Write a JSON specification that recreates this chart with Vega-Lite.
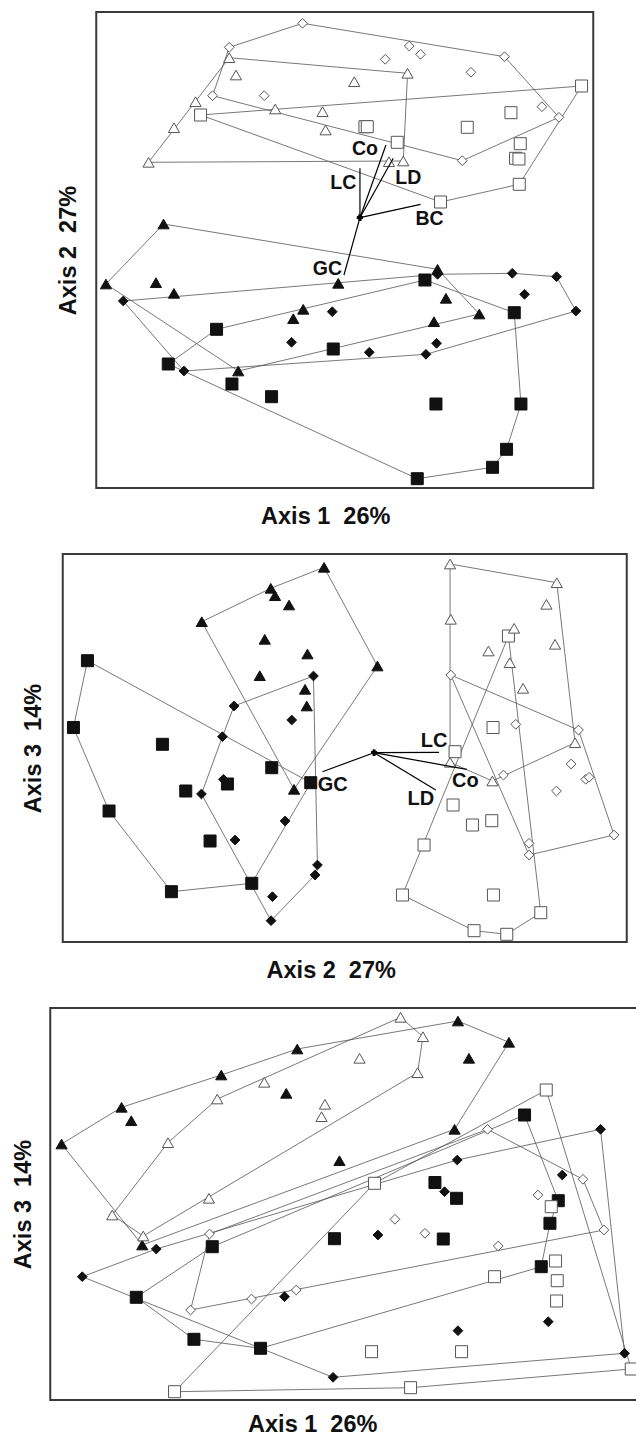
{
  "$schema": "https://vega.github.io/schema/vega-lite/v6.json",
  "background": "white",
  "padding": {"left": 9.25, "top": 11, "right": 0, "bottom": 0},
  "config": {
    "font": "Liberation Sans",
    "view": {"stroke": "#3a3a3a", "strokeWidth": 2},
    "axis": {"domain": false, "ticks": false, "labels": false, "grid": false, "titleFont": "Liberation Sans", "titleFontWeight": "bold", "titleFontSize": 23.5, "titleColor": "#111111"},
    "legend": {"disable": true}
  },
  "datasets": {
    "p1_pts": [
      {"group":"OD","x":206.3,"y":464.7},{"group":"OD","x":133,"y":440.7},{"group":"OD","x":116.3,"y":392.3},{"group":"OD","x":168,"y":392.3},{"group":"OD","x":313,"y":442},{"group":"OD","x":324.3,"y":433.7},{"group":"OD","x":289,"y":428.7},{"group":"OD","x":408.3,"y":431.3},{"group":"OD","x":374.7,"y":415.7},{"group":"OD","x":445.7,"y":381.3},{"group":"OD","x":462.7,"y":370.7},{"group":"OD","x":366,"y":327.3},
      {"group":"OT","x":133,"y":430.3},{"group":"OT","x":139.7,"y":413},{"group":"OT","x":99.3,"y":386.3},{"group":"OT","x":179,"y":379},{"group":"OT","x":226.3,"y":376.3},{"group":"OT","x":77.7,"y":360.3},{"group":"OT","x":229.3,"y":358},{"group":"OT","x":52.3,"y":325.7},{"group":"OT","x":311.3,"y":414.7},{"group":"OT","x":258,"y":406.3},{"group":"OT","x":292.7,"y":326.3},{"group":"OT","x":307,"y":327},
      {"group":"OS","x":104.3,"y":373},{"group":"OS","x":485.3,"y":402},{"group":"OS","x":414.7,"y":375.3},{"group":"OS","x":268.7,"y":361.3},{"group":"OS","x":271,"y":361.3},{"group":"OS","x":371,"y":360.7},{"group":"OS","x":301,"y":345.7},{"group":"OS","x":424,"y":344.3},{"group":"OS","x":419.3,"y":329.7},{"group":"OS","x":422.7,"y":329},{"group":"OS","x":423,"y":303.7},{"group":"OS","x":344.3,"y":286},
      {"group":"FT","x":67.3,"y":264},{"group":"FT","x":9.7,"y":204},{"group":"FT","x":59.7,"y":205.3},{"group":"FT","x":77.7,"y":194.7},{"group":"FT","x":242,"y":204.7},{"group":"FT","x":207,"y":178.7},{"group":"FT","x":197,"y":169.3},{"group":"FT","x":142,"y":117},{"group":"FT","x":341.3,"y":218.7},{"group":"FT","x":349.7,"y":189.7},{"group":"FT","x":383,"y":174},{"group":"FT","x":337.7,"y":166.3},
      {"group":"FD","x":27,"y":187},{"group":"FD","x":236,"y":176.3},{"group":"FD","x":195.3,"y":145.7},{"group":"FD","x":87.7,"y":117},{"group":"FD","x":341.3,"y":213.7},{"group":"FD","x":416,"y":214.7},{"group":"FD","x":460.3,"y":211.3},{"group":"FD","x":428.3,"y":193.7},{"group":"FD","x":479.7,"y":177},{"group":"FD","x":340.3,"y":144.7},{"group":"FD","x":273,"y":135.7},{"group":"FD","x":329.7,"y":133.7},
      {"group":"FS","x":120.3,"y":158.7},{"group":"FS","x":237,"y":139},{"group":"FS","x":72,"y":124},{"group":"FS","x":135.7,"y":104},{"group":"FS","x":175.3,"y":91.3},{"group":"FS","x":328.7,"y":208},{"group":"FS","x":418,"y":175.3},{"group":"FS","x":339.7,"y":84},{"group":"FS","x":424.7,"y":84},{"group":"FS","x":410.3,"y":38.7},{"group":"FS","x":396.3,"y":20.7},{"group":"FS","x":321,"y":9.3}
    ],
    "p1_hull": [
      {"group":"OD","i":0,"x":206.3,"y":464.7},{"group":"OD","i":1,"x":408.3,"y":431.3},{"group":"OD","i":2,"x":462.7,"y":370.7},{"group":"OD","i":3,"x":366,"y":327.3},{"group":"OD","i":4,"x":116.3,"y":392.3},{"group":"OD","i":5,"x":133,"y":440.7},{"group":"OD","i":6,"x":206.3,"y":464.7},
      {"group":"OT","i":0,"x":52.3,"y":325.7},{"group":"OT","i":1,"x":133,"y":430.3},{"group":"OT","i":2,"x":311.3,"y":414.7},{"group":"OT","i":3,"x":307,"y":327},{"group":"OT","i":4,"x":52.3,"y":325.7},
      {"group":"OS","i":0,"x":104.3,"y":373},{"group":"OS","i":1,"x":485.3,"y":402},{"group":"OS","i":2,"x":423,"y":303.7},{"group":"OS","i":3,"x":344.3,"y":286},{"group":"OS","i":4,"x":104.3,"y":373},
      {"group":"FT","i":0,"x":9.7,"y":204},{"group":"FT","i":1,"x":67.3,"y":264},{"group":"FT","i":2,"x":341.3,"y":218.7},{"group":"FT","i":3,"x":383,"y":174},{"group":"FT","i":4,"x":142,"y":117},{"group":"FT","i":5,"x":9.7,"y":204},
      {"group":"FD","i":0,"x":27,"y":187},{"group":"FD","i":1,"x":341.3,"y":213.7},{"group":"FD","i":2,"x":416,"y":214.7},{"group":"FD","i":3,"x":460.3,"y":211.3},{"group":"FD","i":4,"x":479.7,"y":177},{"group":"FD","i":5,"x":329.7,"y":133.7},{"group":"FD","i":6,"x":87.7,"y":117},{"group":"FD","i":7,"x":27,"y":187},
      {"group":"FS","i":0,"x":72,"y":124},{"group":"FS","i":1,"x":120.3,"y":158.7},{"group":"FS","i":2,"x":328.7,"y":208},{"group":"FS","i":3,"x":418,"y":175.3},{"group":"FS","i":4,"x":424.7,"y":84},{"group":"FS","i":5,"x":410.3,"y":38.7},{"group":"FS","i":6,"x":396.3,"y":20.7},{"group":"FS","i":7,"x":321,"y":9.3},{"group":"FS","i":8,"x":72,"y":124}
    ],
    "p1_vec": [
      {"name":"Co","x":263.7,"y":270.3,"xe":289.7,"ye":343},
      {"name":"LD","x":263.7,"y":270.3,"xe":297,"ye":329.7},
      {"name":"LC","x":263.7,"y":270.3,"xe":263.7,"ye":319.7},
      {"name":"BC","x":263.7,"y":270.3,"xe":324.3,"ye":283.7},
      {"name":"GC","x":263.7,"y":270.3,"xe":247.7,"ye":213}
    ],
    "p1_lab": [
      {"name":"Co","x":268.7,"y":339},{"name":"LD","x":312,"y":310.5},{"name":"LC","x":247,"y":305.3},{"name":"BC","x":333.3,"y":269.2},{"name":"GC","x":231.2,"y":218.8}
    ],
    "p2_pts": [
      {"group":"FT","x":261.3,"y":374.7},{"group":"FT","x":208,"y":353.7},{"group":"FT","x":212.3,"y":346.3},{"group":"FT","x":226.3,"y":337},{"group":"FT","x":139,"y":320.3},{"group":"FT","x":202,"y":302.7},{"group":"FT","x":244.7,"y":288},{"group":"FT","x":197,"y":266.3},{"group":"FT","x":242.3,"y":252.7},{"group":"FT","x":244,"y":236},{"group":"FT","x":314.7,"y":276},{"group":"FT","x":231.3,"y":152.7},
      {"group":"FD","x":250.7,"y":266},{"group":"FD","x":171.3,"y":236},{"group":"FD","x":229,"y":222},{"group":"FD","x":159.7,"y":205.3},{"group":"FD","x":160.7,"y":162.7},{"group":"FD","x":138.7,"y":148},{"group":"FD","x":222.3,"y":121},{"group":"FD","x":172.3,"y":102},{"group":"FD","x":254.7,"y":77},{"group":"FD","x":252.3,"y":67},{"group":"FD","x":209.7,"y":45.3},{"group":"FD","x":208.3,"y":21.3},
      {"group":"FS","x":24.7,"y":281.3},{"group":"FS","x":10.7,"y":214.5},{"group":"FS","x":99.7,"y":197.7},{"group":"FS","x":209,"y":174.3},{"group":"FS","x":248,"y":159.3},{"group":"FS","x":164.7,"y":158},{"group":"FS","x":123,"y":151},{"group":"FS","x":46.3,"y":131},{"group":"FS","x":147.3,"y":101},{"group":"FS","x":189,"y":58.7},{"group":"FS","x":108.7,"y":50.3},
      {"group":"OT","x":387.3,"y":378},{"group":"OT","x":494,"y":359.3},{"group":"OT","x":483.7,"y":337.7},{"group":"OT","x":388,"y":322.7},{"group":"OT","x":451.3,"y":313.7},{"group":"OT","x":492.3,"y":297.7},{"group":"OT","x":425.7,"y":291},{"group":"OT","x":447,"y":279.3},{"group":"OT","x":460.3,"y":253.7},{"group":"OT","x":387.3,"y":179.7},{"group":"OT","x":429.7,"y":161},{"group":"OT","x":512.3,"y":199.3},
      {"group":"OS","x":445.7,"y":306},{"group":"OS","x":430.3,"y":214.5},{"group":"OS","x":392.3,"y":190.3},{"group":"OS","x":390.3,"y":137},{"group":"OS","x":409.7,"y":117},{"group":"OS","x":429,"y":121.3},{"group":"OS","x":361.3,"y":97},{"group":"OS","x":339.7,"y":47},{"group":"OS","x":430.7,"y":47},{"group":"OS","x":478,"y":29.3},{"group":"OS","x":411.3,"y":11.3},{"group":"OS","x":444,"y":7.7},
      {"group":"OD","x":388,"y":267},{"group":"OD","x":453,"y":217.7},{"group":"OD","x":515.7,"y":212},{"group":"OD","x":440.7,"y":167},{"group":"OD","x":508.3,"y":178},{"group":"OD","x":523,"y":162.7},{"group":"OD","x":526.3,"y":164.7},{"group":"OD","x":493.7,"y":151},{"group":"OD","x":551.3,"y":107},{"group":"OD","x":466.3,"y":98.7},{"group":"OD","x":466.3,"y":87}
    ],
    "p2_hull": [
      {"group":"FT","i":0,"x":139,"y":320.3},{"group":"FT","i":1,"x":208,"y":353.7},{"group":"FT","i":2,"x":261.3,"y":374.7},{"group":"FT","i":3,"x":314.7,"y":276},{"group":"FT","i":4,"x":231.3,"y":152.7},{"group":"FT","i":5,"x":139,"y":320.3},
      {"group":"FS","i":0,"x":24.7,"y":281.3},{"group":"FS","i":1,"x":248,"y":159.3},{"group":"FS","i":2,"x":189,"y":58.7},{"group":"FS","i":3,"x":108.7,"y":50.3},{"group":"FS","i":4,"x":46.3,"y":131},{"group":"FS","i":5,"x":10.7,"y":214.5},{"group":"FS","i":6,"x":24.7,"y":281.3},
      {"group":"FD","i":0,"x":171.3,"y":236},{"group":"FD","i":1,"x":250.7,"y":266},{"group":"FD","i":2,"x":254.7,"y":77},{"group":"FD","i":3,"x":252.3,"y":67},{"group":"FD","i":4,"x":208.3,"y":21.3},{"group":"FD","i":5,"x":138.7,"y":148},{"group":"FD","i":6,"x":159.7,"y":205.3},{"group":"FD","i":7,"x":171.3,"y":236},
      {"group":"OT","i":0,"x":387.3,"y":378},{"group":"OT","i":1,"x":494,"y":359.3},{"group":"OT","i":2,"x":512.3,"y":199.3},{"group":"OT","i":3,"x":429.7,"y":161},{"group":"OT","i":4,"x":387.3,"y":179.7},{"group":"OT","i":5,"x":387.3,"y":378},
      {"group":"OS","i":0,"x":445.7,"y":306},{"group":"OS","i":1,"x":478,"y":29.3},{"group":"OS","i":2,"x":444,"y":7.7},{"group":"OS","i":3,"x":411.3,"y":11.3},{"group":"OS","i":4,"x":339.7,"y":47},{"group":"OS","i":5,"x":445.7,"y":306},
      {"group":"OD","i":0,"x":388,"y":267},{"group":"OD","i":1,"x":515.7,"y":212},{"group":"OD","i":2,"x":551.3,"y":107},{"group":"OD","i":3,"x":466.3,"y":87},{"group":"OD","i":4,"x":388,"y":267}
    ],
    "p2_vec": [
      {"name":"GC","x":311.3,"y":189.3,"xe":259.7,"ye":170.3},
      {"name":"LC","x":311.3,"y":189.3,"xe":376.3,"ye":189.7},
      {"name":"Co","x":311.3,"y":189.3,"xe":404,"ye":172.7},
      {"name":"LD","x":311.3,"y":189.3,"xe":373,"ye":152}
    ],
    "p2_lab": [
      {"name":"GC","x":270,"y":157.5},{"name":"LC","x":371.3,"y":201.2},{"name":"Co","x":402.7,"y":161.2},{"name":"LD","x":358,"y":143.3}
    ],
    "p3_pts": [
      {"group":"FT","x":247,"y":351},{"group":"FT","x":171,"y":325},{"group":"FT","x":236,"y":306.7},{"group":"FT","x":71.3,"y":292.7},{"group":"FT","x":81,"y":279.3},{"group":"FT","x":11.3,"y":256},{"group":"FT","x":289.2,"y":239.3},{"group":"FT","x":407.7,"y":379},{"group":"FT","x":458.7,"y":357.7},{"group":"FT","x":418.7,"y":341.7},{"group":"FT","x":404.3,"y":270.7},{"group":"FT","x":92,"y":155},
      {"group":"OT","x":350.3,"y":382.7},{"group":"OT","x":372.7,"y":363.3},{"group":"OT","x":309.3,"y":341.7},{"group":"OT","x":367.3,"y":327.3},{"group":"OT","x":214,"y":317.7},{"group":"OT","x":167,"y":301},{"group":"OT","x":274.7,"y":295.7},{"group":"OT","x":271.3,"y":283.3},{"group":"OT","x":117.7,"y":257.3},{"group":"OT","x":62,"y":185},{"group":"OT","x":93,"y":164},{"group":"OT","x":158.7,"y":201.7},
      {"group":"FS","x":474.3,"y":285},{"group":"FS","x":384.7,"y":217.5},{"group":"FS","x":406.3,"y":201.7},{"group":"FS","x":508,"y":199.3},{"group":"FS","x":499.7,"y":176.7},{"group":"FS","x":284.2,"y":161.3},{"group":"FS","x":393,"y":161},{"group":"FS","x":491,"y":133.3},{"group":"FS","x":162,"y":153.3},{"group":"FS","x":86,"y":102.7},{"group":"FS","x":143.7,"y":60.7},{"group":"FS","x":210.3,"y":51.7},
      {"group":"FD","x":550.3,"y":270.7},{"group":"FD","x":407,"y":240},{"group":"FD","x":512,"y":225},{"group":"FD","x":394.3,"y":208.3},{"group":"FD","x":327.7,"y":165},{"group":"FD","x":106,"y":151},{"group":"FD","x":32,"y":123.3},{"group":"FD","x":234.3,"y":103.3},{"group":"FD","x":498,"y":78.3},{"group":"FD","x":407.7,"y":69.3},{"group":"FD","x":574.3,"y":46.7},{"group":"FD","x":282.8,"y":22.7},
      {"group":"OS","x":496,"y":310},{"group":"OS","x":324.3,"y":216.7},{"group":"OS","x":501,"y":193.3},{"group":"OS","x":505.3,"y":139},{"group":"OS","x":444.3,"y":123.3},{"group":"OS","x":507,"y":119.3},{"group":"OS","x":506.3,"y":99},{"group":"OS","x":321.3,"y":48.3},{"group":"OS","x":411.3,"y":48.3},{"group":"OS","x":581,"y":31},{"group":"OS","x":360.3,"y":12.3},{"group":"OS","x":124.3,"y":8.3},
      {"group":"OD","x":437.3,"y":270.7},{"group":"OD","x":532.7,"y":220.7},{"group":"OD","x":487.7,"y":205},{"group":"OD","x":344.7,"y":180.7},{"group":"OD","x":374.7,"y":166.7},{"group":"OD","x":448,"y":154},{"group":"OD","x":553.7,"y":170},{"group":"OD","x":159.3,"y":166},{"group":"OD","x":140.3,"y":90},{"group":"OD","x":201.3,"y":101},{"group":"OD","x":246,"y":110}
    ],
    "p3_hull": [
      {"group":"FT","i":0,"x":11.3,"y":256},{"group":"FT","i":1,"x":71.3,"y":292.7},{"group":"FT","i":2,"x":171,"y":325},{"group":"FT","i":3,"x":247,"y":351},{"group":"FT","i":4,"x":407.7,"y":379},{"group":"FT","i":5,"x":458.7,"y":357.7},{"group":"FT","i":6,"x":404.3,"y":270.7},{"group":"FT","i":7,"x":92,"y":155},{"group":"FT","i":8,"x":11.3,"y":256},
      {"group":"OT","i":0,"x":62,"y":185},{"group":"OT","i":1,"x":117.7,"y":257.3},{"group":"OT","i":2,"x":167,"y":301},{"group":"OT","i":3,"x":350.3,"y":382.7},{"group":"OT","i":4,"x":372.7,"y":363.3},{"group":"OT","i":5,"x":367.3,"y":327.3},{"group":"OT","i":6,"x":93,"y":164},{"group":"OT","i":7,"x":62,"y":185},
      {"group":"FS","i":0,"x":86,"y":102.7},{"group":"FS","i":1,"x":162,"y":153.3},{"group":"FS","i":2,"x":474.3,"y":285},{"group":"FS","i":3,"x":508,"y":199.3},{"group":"FS","i":4,"x":499.7,"y":176.7},{"group":"FS","i":5,"x":491,"y":133.3},{"group":"FS","i":6,"x":210.3,"y":51.7},{"group":"FS","i":7,"x":143.7,"y":60.7},{"group":"FS","i":8,"x":86,"y":102.7},
      {"group":"FD","i":0,"x":32,"y":123.3},{"group":"FD","i":1,"x":106,"y":151},{"group":"FD","i":2,"x":407,"y":240},{"group":"FD","i":3,"x":550.3,"y":270.7},{"group":"FD","i":4,"x":574.3,"y":46.7},{"group":"FD","i":5,"x":282.8,"y":22.7},{"group":"FD","i":6,"x":32,"y":123.3},
      {"group":"OS","i":0,"x":124.3,"y":8.3},{"group":"OS","i":1,"x":324.3,"y":216.7},{"group":"OS","i":2,"x":496,"y":310},{"group":"OS","i":3,"x":581,"y":31},{"group":"OS","i":4,"x":360.3,"y":12.3},{"group":"OS","i":5,"x":124.3,"y":8.3},
      {"group":"OD","i":0,"x":159.3,"y":166},{"group":"OD","i":1,"x":437.3,"y":270.7},{"group":"OD","i":2,"x":532.7,"y":220.7},{"group":"OD","i":3,"x":553.7,"y":170},{"group":"OD","i":4,"x":140.3,"y":90},{"group":"OD","i":5,"x":159.3,"y":166}
    ]
  },
  "resolve": {"scale": {"x": "independent", "y": "independent"}},
  "bounds": "flush",
  "center": true,
  "spacing": 66,
  "vconcat": [
    {
      "width": 497, "height": 476,
      "encoding": {
        "x": {"field": "x", "type": "quantitative", "scale": {"domain": [0, 497], "nice": false, "zero": false}, "axis": {"title": "Axis 1 \u00a026%", "titlePadding": 16, "titleX": 229, "titleAlign": "center"}},
        "y": {"field": "y", "type": "quantitative", "scale": {"domain": [0, 476], "nice": false, "zero": false}, "axis": {"title": "Axis 2 \u00a027%", "titlePadding": 16.25}}
      },
      "layer": [
        {"data": {"name": "p1_hull"}, "mark": {"type": "line", "stroke": "#555555", "strokeWidth": 0.8}, "encoding": {"detail": {"field": "group", "type": "nominal"}, "order": {"field": "i", "type": "quantitative"}}},
        {"data": {"name": "p1_pts"}, "transform": [{"filter": {"field": "group", "oneOf": ["FS", "OS"]}}], "mark": {"type": "point", "shape": "square", "size": 144, "filled": true, "strokeWidth": 1, "opacity": 1},
         "encoding": {"fill": {"field": "group", "type": "nominal", "scale": {"domain": ["FT","OT","FS","OS","FD","OD"], "range": ["#111111","#ffffff","#111111","#ffffff","#111111","#ffffff"]}, "legend": null},
                      "stroke": {"field": "group", "type": "nominal", "scale": {"domain": ["FT","OT","FS","OS","FD","OD"], "range": ["#111111","#555555","#111111","#555555","#111111","#555555"]}, "legend": null}}},
        {"data": {"name": "p1_pts"}, "transform": [{"filter": {"field": "group", "oneOf": ["FD", "OD"]}}], "mark": {"type": "point", "shape": "diamond", "size": 95, "filled": true, "strokeWidth": 1, "opacity": 1},
         "encoding": {"fill": {"field": "group", "type": "nominal", "scale": {"domain": ["FT","OT","FS","OS","FD","OD"], "range": ["#111111","#ffffff","#111111","#ffffff","#111111","#ffffff"]}, "legend": null},
                      "stroke": {"field": "group", "type": "nominal", "scale": {"domain": ["FT","OT","FS","OS","FD","OD"], "range": ["#111111","#555555","#111111","#555555","#111111","#555555"]}, "legend": null}}},
        {"data": {"name": "p1_pts"}, "transform": [{"filter": {"field": "group", "oneOf": ["FT", "OT"]}}], "mark": {"type": "point", "shape": "triangle-up", "size": 125, "filled": true, "strokeWidth": 1, "opacity": 1},
         "encoding": {"fill": {"field": "group", "type": "nominal", "scale": {"domain": ["FT","OT","FS","OS","FD","OD"], "range": ["#111111","#ffffff","#111111","#ffffff","#111111","#ffffff"]}, "legend": null},
                      "stroke": {"field": "group", "type": "nominal", "scale": {"domain": ["FT","OT","FS","OS","FD","OD"], "range": ["#111111","#555555","#111111","#555555","#111111","#555555"]}, "legend": null}}},
        {"data": {"name": "p1_vec"}, "mark": {"type": "rule", "stroke": "#000000", "strokeWidth": 1.2}, "encoding": {"x2": {"field": "xe"}, "y2": {"field": "ye"}}},
        {"data": {"name": "p1_vec"}, "mark": {"type": "point", "shape": "cross", "size": 36, "filled": true, "color": "#000000", "opacity": 1}},
        {"data": {"name": "p1_lab"}, "mark": {"type": "text", "font": "Liberation Sans", "fontWeight": "bold", "fontSize": 19.5, "fill": "#111111", "align": "center", "baseline": "middle"}, "encoding": {"text": {"field": "name", "type": "nominal"}}}
      ]
    },
    {
      "width": 564, "height": 388,
      "encoding": {
        "x": {"field": "x", "type": "quantitative", "scale": {"domain": [0, 564], "nice": false, "zero": false}, "axis": {"title": "Axis 2 \u00a027%", "titlePadding": 16, "titleX": 268, "titleAlign": "center"}},
        "y": {"field": "y", "type": "quantitative", "scale": {"domain": [0, 388], "nice": false, "zero": false}, "axis": {"title": "Axis 3 \u00a014%", "titlePadding": 17.75}}
      },
      "layer": [
        {"data": {"name": "p2_hull"}, "mark": {"type": "line", "stroke": "#555555", "strokeWidth": 0.8}, "encoding": {"detail": {"field": "group", "type": "nominal"}, "order": {"field": "i", "type": "quantitative"}}},
        {"data": {"name": "p2_pts"}, "transform": [{"filter": {"field": "group", "oneOf": ["FS", "OS"]}}], "mark": {"type": "point", "shape": "square", "size": 144, "filled": true, "strokeWidth": 1, "opacity": 1},
         "encoding": {"fill": {"field": "group", "type": "nominal", "scale": {"domain": ["FT","OT","FS","OS","FD","OD"], "range": ["#111111","#ffffff","#111111","#ffffff","#111111","#ffffff"]}, "legend": null},
                      "stroke": {"field": "group", "type": "nominal", "scale": {"domain": ["FT","OT","FS","OS","FD","OD"], "range": ["#111111","#555555","#111111","#555555","#111111","#555555"]}, "legend": null}}},
        {"data": {"name": "p2_pts"}, "transform": [{"filter": {"field": "group", "oneOf": ["FD", "OD"]}}], "mark": {"type": "point", "shape": "diamond", "size": 95, "filled": true, "strokeWidth": 1, "opacity": 1},
         "encoding": {"fill": {"field": "group", "type": "nominal", "scale": {"domain": ["FT","OT","FS","OS","FD","OD"], "range": ["#111111","#ffffff","#111111","#ffffff","#111111","#ffffff"]}, "legend": null},
                      "stroke": {"field": "group", "type": "nominal", "scale": {"domain": ["FT","OT","FS","OS","FD","OD"], "range": ["#111111","#555555","#111111","#555555","#111111","#555555"]}, "legend": null}}},
        {"data": {"name": "p2_pts"}, "transform": [{"filter": {"field": "group", "oneOf": ["FT", "OT"]}}], "mark": {"type": "point", "shape": "triangle-up", "size": 125, "filled": true, "strokeWidth": 1, "opacity": 1},
         "encoding": {"fill": {"field": "group", "type": "nominal", "scale": {"domain": ["FT","OT","FS","OS","FD","OD"], "range": ["#111111","#ffffff","#111111","#ffffff","#111111","#ffffff"]}, "legend": null},
                      "stroke": {"field": "group", "type": "nominal", "scale": {"domain": ["FT","OT","FS","OS","FD","OD"], "range": ["#111111","#555555","#111111","#555555","#111111","#555555"]}, "legend": null}}},
        {"data": {"name": "p2_vec"}, "mark": {"type": "rule", "stroke": "#000000", "strokeWidth": 1.2}, "encoding": {"x2": {"field": "xe"}, "y2": {"field": "ye"}}},
        {"data": {"name": "p2_vec"}, "mark": {"type": "point", "shape": "cross", "size": 36, "filled": true, "color": "#000000", "opacity": 1}},
        {"data": {"name": "p2_lab"}, "mark": {"type": "text", "font": "Liberation Sans", "fontWeight": "bold", "fontSize": 20, "fill": "#111111", "align": "center", "baseline": "middle"}, "encoding": {"text": {"field": "name", "type": "nominal"}}}
      ]
    },
    {
      "width": 589, "height": 392,
      "encoding": {
        "x": {"field": "x", "type": "quantitative", "scale": {"domain": [0, 589], "nice": false, "zero": false}, "axis": {"title": "Axis 1 \u00a026%", "titlePadding": 12, "titleX": 262, "titleAlign": "center"}},
        "y": {"field": "y", "type": "quantitative", "scale": {"domain": [0, 392], "nice": false, "zero": false}, "axis": {"title": "Axis 3 \u00a014%", "titlePadding": 15.25}}
      },
      "layer": [
        {"data": {"name": "p3_hull"}, "mark": {"type": "line", "stroke": "#555555", "strokeWidth": 0.8}, "encoding": {"detail": {"field": "group", "type": "nominal"}, "order": {"field": "i", "type": "quantitative"}}},
        {"data": {"name": "p3_pts"}, "transform": [{"filter": {"field": "group", "oneOf": ["FS", "OS"]}}], "mark": {"type": "point", "shape": "square", "size": 144, "filled": true, "strokeWidth": 1, "opacity": 1},
         "encoding": {"fill": {"field": "group", "type": "nominal", "scale": {"domain": ["FT","OT","FS","OS","FD","OD"], "range": ["#111111","#ffffff","#111111","#ffffff","#111111","#ffffff"]}, "legend": null},
                      "stroke": {"field": "group", "type": "nominal", "scale": {"domain": ["FT","OT","FS","OS","FD","OD"], "range": ["#111111","#555555","#111111","#555555","#111111","#555555"]}, "legend": null}}},
        {"data": {"name": "p3_pts"}, "transform": [{"filter": {"field": "group", "oneOf": ["FD", "OD"]}}], "mark": {"type": "point", "shape": "diamond", "size": 95, "filled": true, "strokeWidth": 1, "opacity": 1},
         "encoding": {"fill": {"field": "group", "type": "nominal", "scale": {"domain": ["FT","OT","FS","OS","FD","OD"], "range": ["#111111","#ffffff","#111111","#ffffff","#111111","#ffffff"]}, "legend": null},
                      "stroke": {"field": "group", "type": "nominal", "scale": {"domain": ["FT","OT","FS","OS","FD","OD"], "range": ["#111111","#555555","#111111","#555555","#111111","#555555"]}, "legend": null}}},
        {"data": {"name": "p3_pts"}, "transform": [{"filter": {"field": "group", "oneOf": ["FT", "OT"]}}], "mark": {"type": "point", "shape": "triangle-up", "size": 125, "filled": true, "strokeWidth": 1, "opacity": 1},
         "encoding": {"fill": {"field": "group", "type": "nominal", "scale": {"domain": ["FT","OT","FS","OS","FD","OD"], "range": ["#111111","#ffffff","#111111","#ffffff","#111111","#ffffff"]}, "legend": null},
                      "stroke": {"field": "group", "type": "nominal", "scale": {"domain": ["FT","OT","FS","OS","FD","OD"], "range": ["#111111","#555555","#111111","#555555","#111111","#555555"]}, "legend": null}}}
      ]
    }
  ]
}
